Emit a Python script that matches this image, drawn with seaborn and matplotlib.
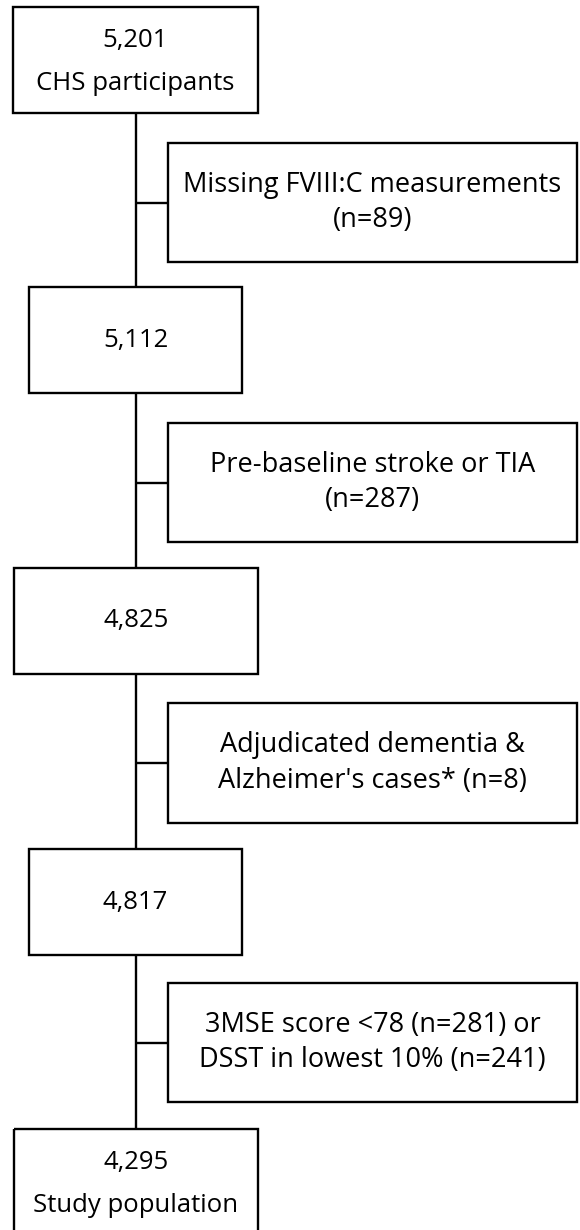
import matplotlib
matplotlib.use("Agg")
from matplotlib import pyplot as plt
from matplotlib.patches import Rectangle
import seaborn as sns

# flow data
counts = ["5,201", "5,112", "4,825", "4,817", "4,295"]
count_notes = ["CHS participants", "", "", "", "Study population"]
excluded = [
    "Missing FVIII:C measurements\n(n=89)",
    "Pre-baseline stroke or TIA\n(n=287)",
    "Adjudicated dementia &\nAlzheimer's cases* (n=8)",
    "3MSE score <78 (n=281) or\nDSST in lowest 10% (n=241)",
]

# layout in pixels (x0, x1, y0, y1)
main_boxes = [(13, 258, 7, 113), (29, 242, 287, 393), (14, 258, 568, 674),
              (29, 242, 849, 955), (14, 258, 1129, 1240)]
side_boxes = [(168, 577, 143, 262), (168, 577, 423, 542), (168, 577, 703, 823),
              (168, 577, 983, 1102)]
spine_x = 136

sns.set_theme(style="white")
plt.rcParams['font.family'] = ['Open Sans', 'DejaVu Sans']

fig = plt.figure(figsize=(5.8, 12.3), dpi=100)
ax = fig.add_axes([0, 0, 1, 1])
ax.set_xlim(0, 580)
ax.set_ylim(1230, 0)
ax.axis("off")

lw = 1.7
fs_main = 18.5
fs_side = 19.5

# vertical spine between main boxes
for a, b in zip(main_boxes[:-1], main_boxes[1:]):
    ax.plot([spine_x, spine_x], [a[3], b[2]], color="black", lw=lw, solid_capstyle="butt")

for (x0, x1, y0, y1), c, note in zip(main_boxes, counts, count_notes):
    ax.add_patch(Rectangle((x0, y0), x1 - x0, y1 - y0, fill=False, ec="black", lw=lw))
    cx = (x0 + x1) / 2
    if note:
        top = y0 + 33
        ax.text(cx, top, c, ha="center", va="center", fontsize=fs_main, color="black")
        ax.text(cx, top + 44, note, ha="center", va="center", fontsize=fs_main, color="black")
    else:
        ax.text(cx, (y0 + y1) / 2, c, ha="center", va="center", fontsize=fs_main, color="black")

for (x0, x1, y0, y1), label in zip(side_boxes, excluded):
    ax.add_patch(Rectangle((x0, y0), x1 - x0, y1 - y0, fill=False, ec="black", lw=lw))
    cy = (y0 + y1) / 2
    ax.plot([spine_x, x0], [cy, cy], color="black", lw=lw, solid_capstyle="butt")
    ax.text((x0 + x1) / 2, cy, label, ha="center", va="center", fontsize=fs_side,
            linespacing=1.38, color="black")

fig.savefig("out.png", dpi=100)
